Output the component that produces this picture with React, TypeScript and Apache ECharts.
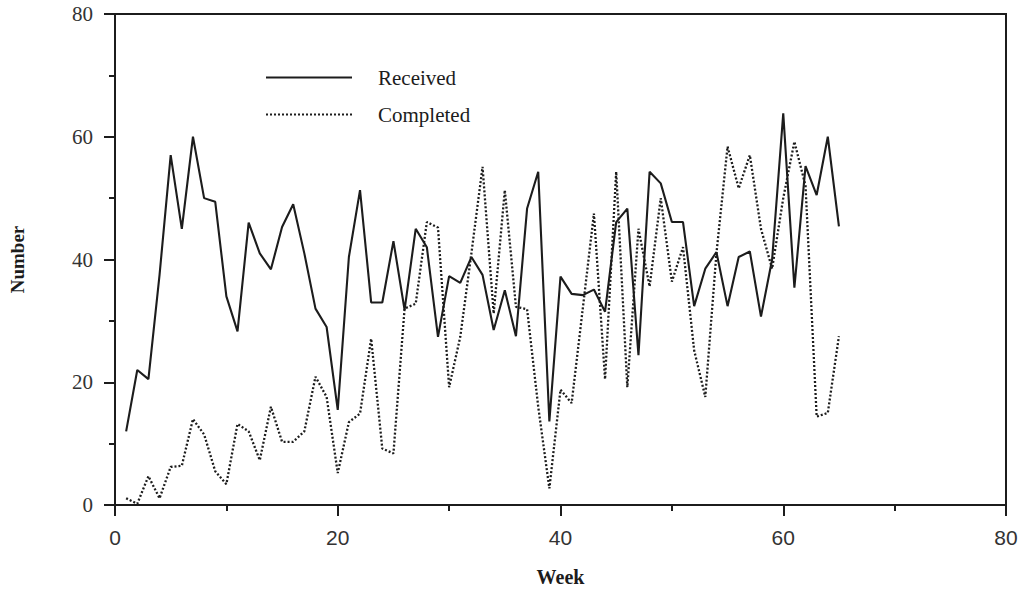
import React, { useEffect, useRef } from "react";
import * as echarts from "echarts";

const weeks: number[] = Array.from({ length: 65 }, (_, i) => i + 1);

const received: number[] = [
  12, 22, 20.5, 37.5, 57, 45, 60, 50, 49.4, 34,
  28.3, 46, 41, 38.4, 45.3, 49, 41, 32, 29, 15.5,
  40.4, 51.3, 33, 33, 43, 31.8, 45, 42, 27.4, 37.3,
  36.2, 40.4, 37.5, 28.5, 35, 27.5, 48.3, 54.3, 13.6, 37.2,
  34.4, 34.2, 35.1, 31.5, 46.1, 48.3, 24.4, 54.3, 52.4, 46.1,
  46.1, 32.4, 38.5, 41.2, 32.4, 40.4, 41.3, 30.7, 40, 63.8,
  35.4, 55.2, 50.5, 60, 45.4,
];

const completed: number[] = [
  1.1, 0.2, 4.7, 1.1, 6.2, 6.4, 14, 11.5, 5.5, 3.4,
  13.2, 12, 7.3, 16, 10.3, 10.3, 12, 20.9, 17.6, 5.2,
  13.5, 14.9, 27.1, 9.2, 8.4, 32, 32.8, 46.1, 45.2, 19.2,
  27.4, 41, 55.1, 31.2, 51.3, 32.3, 31.9, 16, 2.7, 18.8,
  16.6, 32, 47.5, 20.5, 54.3, 19.2, 45, 35.6, 50, 36.4,
  42, 25.2, 17.6, 41, 58.4, 51.6, 57, 45, 38.5, 50,
  59.2, 52, 14.4, 15, 27.5,
];

const seriesNames: string[] = ["Received", "Completed"];
const xAxisName = "Week";
const yAxisName = "Number";

const INK = "#1c1c1c";

export default function App() {
  const ref = useRef<HTMLDivElement>(null);

  useEffect(() => {
    if (!ref.current) return;
    const chart = echarts.init(ref.current, null, { renderer: "svg" });
    const serif = "'Liberation Serif', 'Times New Roman', serif";
    const sans = "'Liberation Sans', Arial, sans-serif";

    chart.setOption({
      animation: false,
      backgroundColor: "#ffffff",
      grid: {
        left: 115,
        right: 20,
        top: 14,
        bottom: 91,
        show: true,
        borderColor: INK,
        borderWidth: 2,
        backgroundColor: "transparent",
      },
      legend: {
        orient: "vertical",
        left: 260,
        top: 62,
        itemWidth: 86,
        itemHeight: 14,
        itemGap: 16,
        data: seriesNames,
        itemStyle: {
          color: "transparent",
          borderColor: "transparent",
          borderWidth: 0,
          opacity: 0,
        },
        textStyle: {
          fontFamily: serif,
          fontSize: 21,
          color: INK,
          padding: [0, 0, 0, 21],
        },
      },
      xAxis: {
        type: "value",
        min: 0,
        max: 80,
        interval: 20,
        name: xAxisName,
        nameLocation: "middle",
        nameGap: 62,
        nameTextStyle: {
          fontFamily: serif,
          fontWeight: "bold",
          fontSize: 20,
          color: INK,
        },
        axisLine: { show: true, lineStyle: { color: INK, width: 2 } },
        axisTick: { show: true, inside: false, length: 11, lineStyle: { color: INK, width: 2 } },
        minorTick: { show: true, splitNumber: 2, length: 6, lineStyle: { color: INK, width: 2 } },
        axisLabel: {
          margin: 22,
          fontFamily: sans,
          fontSize: 21,
          color: "#333",
        },
        splitLine: { show: false },
      },
      yAxis: {
        type: "value",
        min: 0,
        max: 80,
        interval: 20,
        name: yAxisName,
        nameLocation: "middle",
        nameGap: 88,
        nameRotate: 90,
        nameTextStyle: {
          fontFamily: serif,
          fontWeight: "bold",
          fontSize: 19,
          color: INK,
        },
        axisLine: { show: true, lineStyle: { color: INK, width: 2 } },
        axisTick: { show: true, inside: false, length: 11, lineStyle: { color: INK, width: 2 } },
        minorTick: { show: true, splitNumber: 2, length: 6, lineStyle: { color: INK, width: 2 } },
        axisLabel: {
          margin: 22,
          fontFamily: serif,
          fontSize: 21,
          color: "#333",
        },
        splitLine: { show: false },
      },
      series: [
        {
          name: seriesNames[0],
          type: "line",
          symbol: "none",
          data: weeks.map((w, i) => [w, received[i]]),
          lineStyle: { color: INK, width: 2.1, type: "solid" },
          itemStyle: { color: INK },
        },
        {
          name: seriesNames[1],
          type: "line",
          symbol: "none",
          data: weeks.map((w, i) => [w, completed[i]]),
          lineStyle: { color: INK, width: 2.3, type: [2, 2] },
          itemStyle: { color: INK },
        },
      ],
    });

    return () => chart.dispose();
  }, []);

  return (
    <div
      ref={ref}
      style={{ position: "absolute", left: 0, top: 0, width: 1026, height: 596, background: "#fff" }}
    />
  );
}
